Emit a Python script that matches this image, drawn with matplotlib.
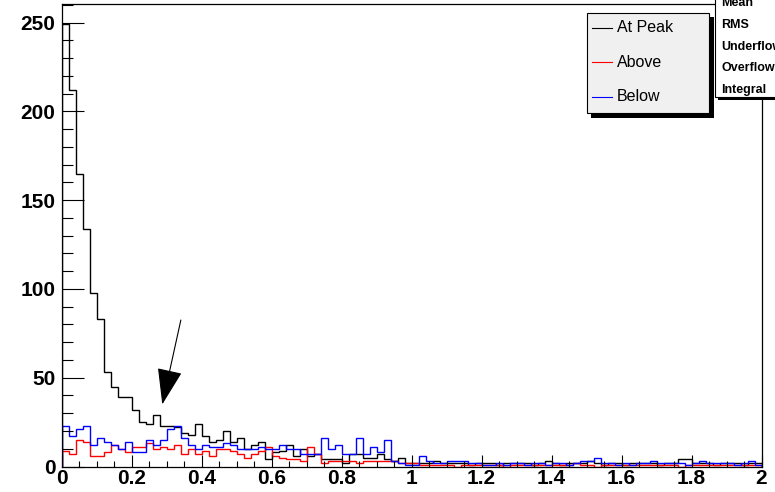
import numpy as np
import matplotlib
matplotlib.use('Agg')
import matplotlib.pyplot as plt
from matplotlib.patches import Rectangle
from matplotlib.ticker import MultipleLocator

W, H = 775, 492

# 100 bins of width 0.02 between 0 and 2
x_range = (0.0, 2.0)
n_bins = 100

at_peak = [249, 212, 165, 134, 98, 83, 53, 45, 39, 39,
           32, 25, 24, 29, 23, 23, 22, 19, 18, 24,
           17, 14, 15, 20, 14, 16, 10, 12, 14, 4,
           8, 9, 12, 6, 10, 6, 7, 4, 4, 4,
           2, 7, 7, 5, 5, 7, 4, 3, 5, 2,
           2, 2, 2, 3, 2, 2, 2, 2, 1, 2,
           2, 2, 1, 2, 2, 2, 2, 1, 2, 3,
           2, 1, 2, 2, 2, 3, 2, 1, 2, 2,
           1, 2, 2, 2, 2, 1, 2, 2, 4, 4,
           2, 2, 2, 1, 2, 2, 2, 1, 2, 2]

above = [9, 7, 15, 14, 6, 6, 8, 12, 10, 8,
         11, 11, 13, 10, 11, 10, 12, 7, 10, 7,
         9, 6, 10, 10, 9, 7, 5, 7, 9, 11,
         6, 5, 4, 4, 3, 11, 7, 2, 3, 3,
         3, 3, 2, 3, 3, 3, 3, 3, 2, 2,
         2, 1, 1, 1, 1, 1, 0, 1, 1, 1,
         1, 1, 1, 0, 1, 1, 1, 1, 1, 1,
         1, 1, 1, 2, 1, 1, 0, 1, 1, 1,
         1, 1, 1, 1, 1, 1, 1, 1, 0, 1,
         1, 1, 1, 1, 1, 1, 1, 1, 1, 1]

below = [23, 17, 21, 23, 12, 16, 14, 12, 10, 14,
         8, 8, 15, 12, 15, 21, 23, 16, 12, 10,
         12, 11, 11, 13, 12, 10, 10, 10, 11, 10,
         10, 12, 10, 10, 7, 7, 7, 16, 10, 12,
         7, 7, 16, 7, 11, 8, 15, 3, 2, 1,
         1, 6, 3, 2, 2, 3, 3, 3, 2, 2,
         1, 1, 2, 1, 2, 2, 1, 2, 2, 1,
         2, 2, 1, 2, 3, 3, 5, 2, 2, 1,
         2, 1, 2, 2, 3, 2, 2, 2, 2, 1,
         2, 3, 2, 2, 2, 2, 1, 2, 3, 1]

series_names = ['At Peak', 'Above', 'Below']
series_colors = ['black', 'red', 'blue']

x_ticks = [0, 0.2, 0.4, 0.6, 0.8, 1.0, 1.2, 1.4, 1.6, 1.8, 2.0]
x_tick_labels = ['0', '0.2', '0.4', '0.6', '0.8', '1', '1.2', '1.4', '1.6', '1.8', '2']
y_ticks = [0, 50, 100, 150, 200, 250]
y_tick_labels = ['0', '50', '100', '150', '200', '250']
y_top = 260.5

stat_labels = ['Mean', 'RMS', 'Underflow', 'Overflow', 'Integral']

# arrow pointing at the shoulder of the peak distribution
arrow_tail = (0.341, 82.5)
arrow_head = (0.288, 35.0)

plt.rcParams['font.family'] = ['Liberation Sans', 'DejaVu Sans']


def fx(px):
    return px / W


def fy(py):
    return 1 - py / H


def box(x0, y0, x1, y1, **kw):
    # rectangle given in pixel coordinates, y measured from the top
    return Rectangle((fx(x0), fy(y1)), fx(x1) - fx(x0), fy(y0) - fy(y1),
                     transform=fig.transFigure, **kw)


fig = plt.figure(figsize=(W / 100, H / 100), dpi=100)
ax = fig.add_axes([fx(61.5), fy(466.5), fx(761.5) - fx(61.5), fy(4) - fy(466.5)])

edges = np.linspace(x_range[0], x_range[1], n_bins + 1)
for vals, col in zip([at_peak, above, below], series_colors):
    ax.stairs(vals, edges, color=col, lw=1.0, baseline=0)

ax.set_xlim(*x_range)
ax.set_ylim(0, y_top)
ax.set_xticks(x_ticks)
ax.set_xticklabels(x_tick_labels, fontsize=15, fontweight='bold')
ax.set_yticks(y_ticks)
ax.set_yticklabels(y_tick_labels, fontsize=15, fontweight='bold')
ax.xaxis.set_minor_locator(MultipleLocator(0.05))
ax.yaxis.set_minor_locator(MultipleLocator(10))
ax.tick_params(axis='x', which='major', direction='in', length=8.6, width=0.8, pad=2)
ax.tick_params(axis='x', which='minor', direction='in', length=4.3, width=0.8)
ax.tick_params(axis='y', which='major', direction='in', length=15.5, width=0.8, pad=4.5)
ax.tick_params(axis='y', which='minor', direction='in', length=7.7, width=0.8)
for sp in ax.spines.values():
    sp.set_linewidth(0.9)

ax.annotate('', xy=arrow_head, xytext=arrow_tail,
            arrowprops=dict(arrowstyle='-|>,head_length=2.3,head_width=0.8',
                            mutation_scale=10, color='black', lw=0.8,
                            shrinkA=0, shrinkB=0))

# legend box with drop shadow
fig.add_artist(box(591, 17, 713.5, 117.5, facecolor='black', edgecolor='none', zorder=3))
fig.add_artist(box(587, 12.7, 709.3, 113.3, facecolor='#f0f0f0', edgecolor='black',
                   lw=0.8, zorder=4))
for row, (name, col) in enumerate(zip(series_names, series_colors)):
    yy = 27.5 + row * 34.7
    fig.add_artist(plt.Line2D([fx(592), fx(612)], [fy(yy), fy(yy)], color=col, lw=0.8,
                              transform=fig.transFigure, zorder=5))
    fig.text(fx(617), fy(yy), name, fontsize=11.5, va='center', ha='left', zorder=5)

# statistics box, running off the right edge
fig.add_artist(box(718, -5, 790, 99.5, facecolor='black', edgecolor='none', zorder=3))
fig.add_artist(box(715, -5, 790, 96.5, facecolor='white', edgecolor='black',
                   lw=0.8, zorder=4))
for yy, lab in zip([3.5, 25.5, 47, 68.5, 90], stat_labels):
    fig.text(fx(721.5), fy(yy), lab, fontsize=9, fontweight='bold',
             va='center', ha='left', zorder=5)

fig.savefig('out.png', dpi=100)
